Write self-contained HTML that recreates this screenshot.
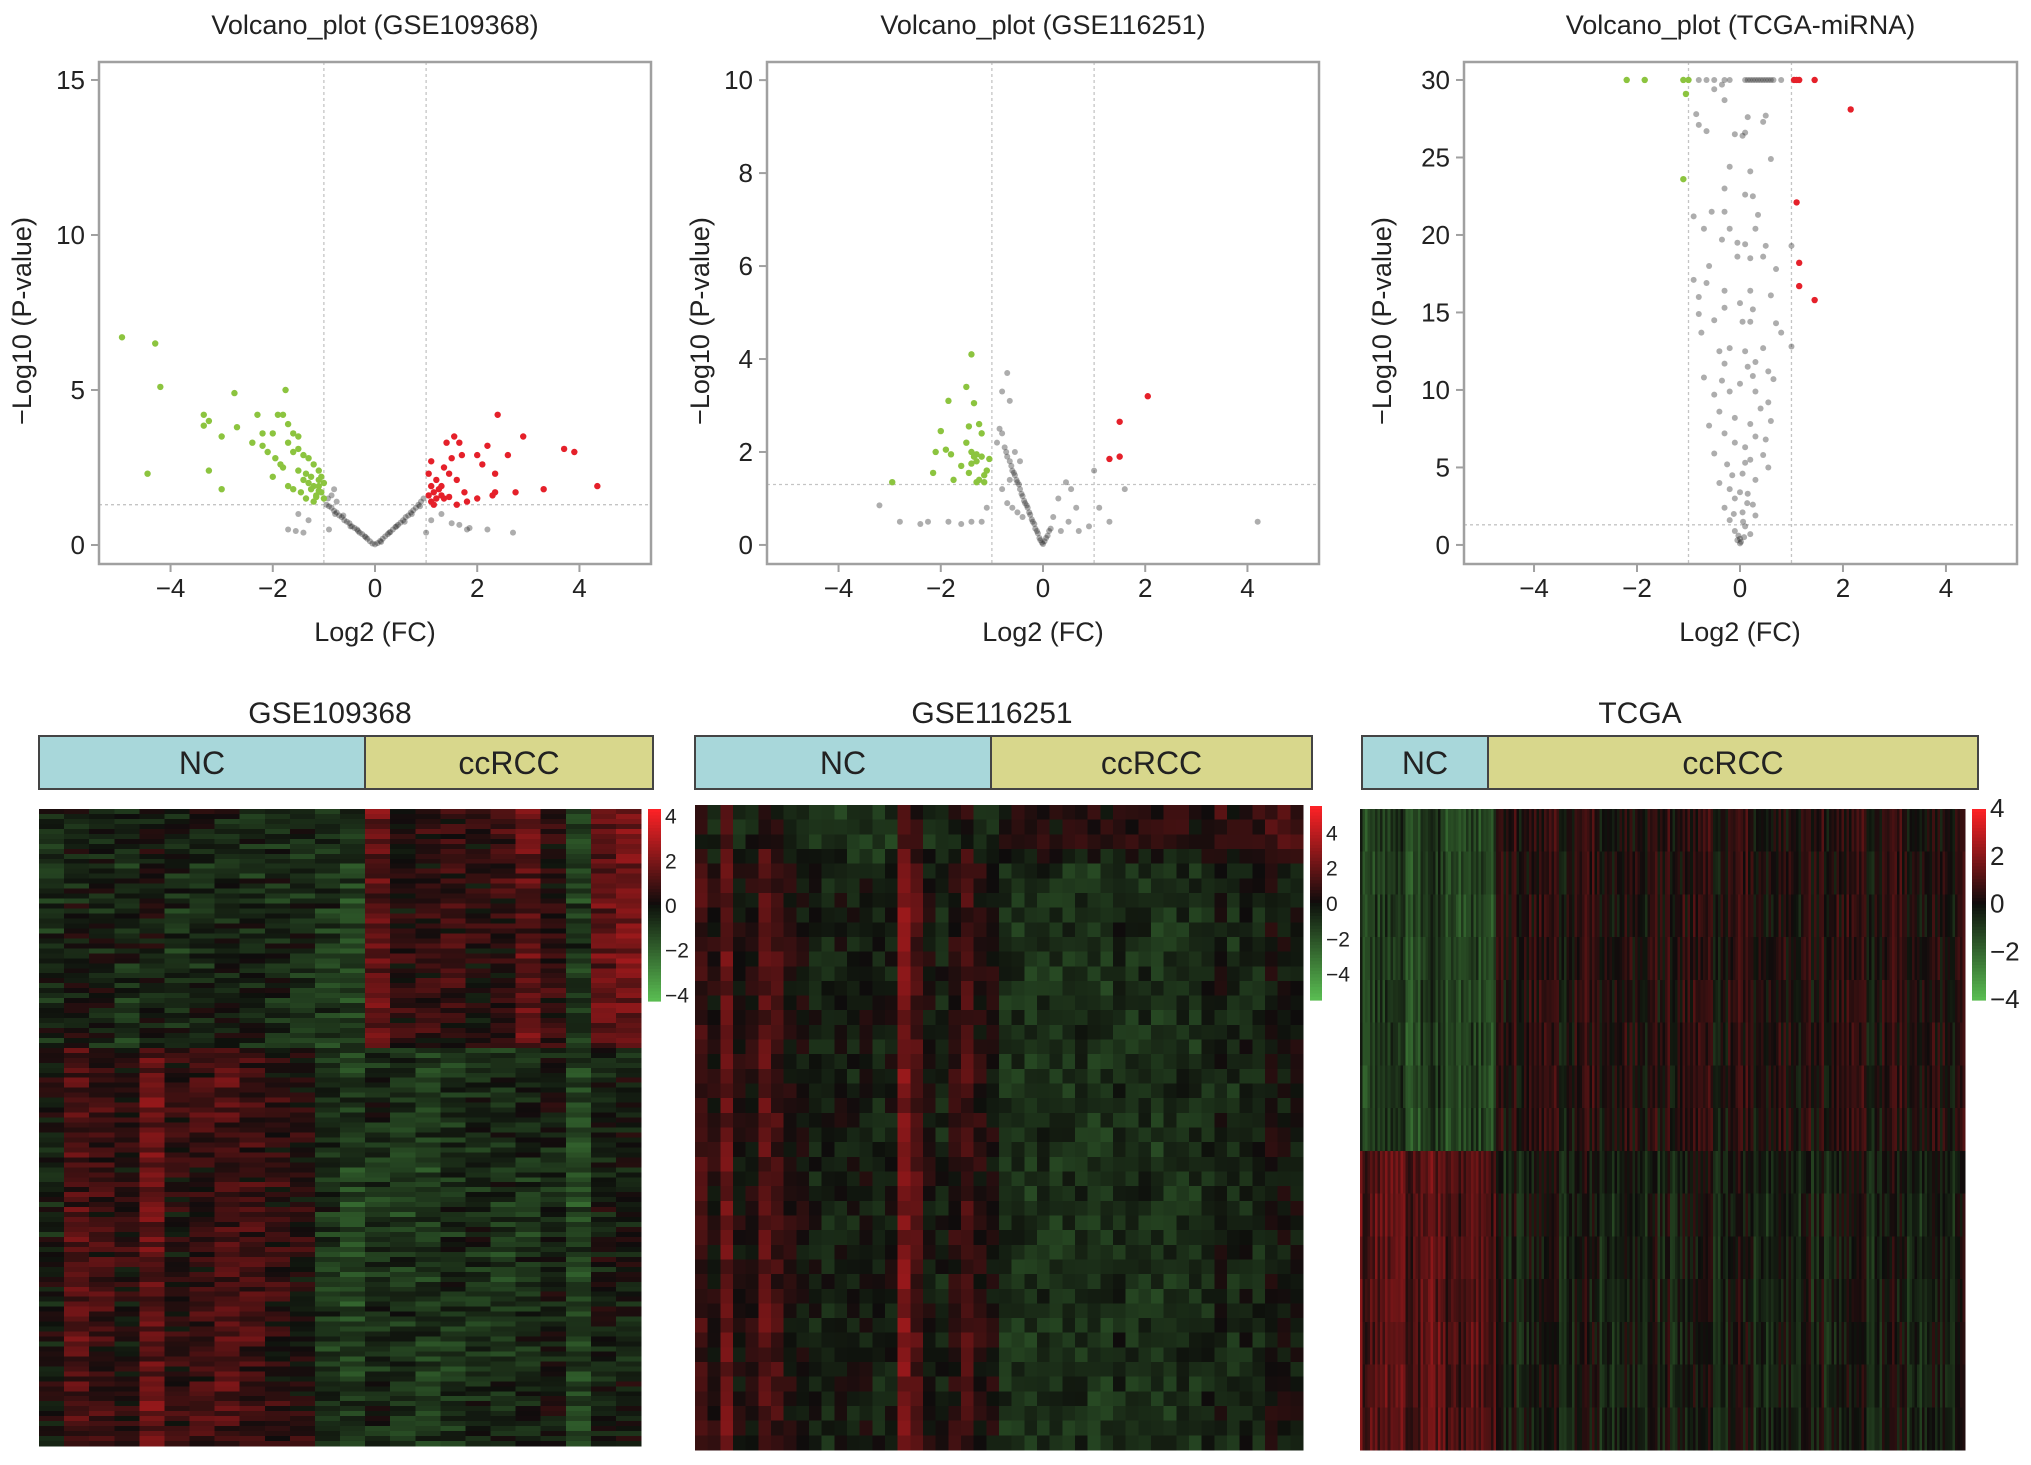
<!DOCTYPE html>
<html><head><meta charset="utf-8"><style>
html,body{margin:0;padding:0;background:#fff}
svg{display:block;font-family:"Liberation Sans",Arial,sans-serif}
</style></head><body>
<svg id="fig" width="2031" height="1465" viewBox="0 0 2031 1465" xmlns="http://www.w3.org/2000/svg"></svg>
<script>
// ---------- Volcano data ----------
const xTicks = [-4,-2,0,2,4];
const yTicks1 = [0,5,10,15];
const yTicks2 = [0,2,4,6,8,10];
const yTicks3 = [0,5,10,15,20,25,30];
const green1 = [[-4.95,6.7],[-4.3,6.5],[-4.2,5.1],[-4.45,2.3],[-3.35,4.2],[-3.25,4.0],[-3.35,3.85],[-3.0,3.5],[-3.25,2.4],[-3.0,1.8],[-2.75,4.9],[-2.7,3.8],[-2.3,4.2],[-2.2,3.6],[-2.0,3.6],[-1.9,4.2],[-1.8,4.2],[-1.75,5.0],[-1.7,3.9],[-1.6,3.6],[-1.5,3.5],[-2.4,3.3],[-2.2,3.2],[-2.1,3.0],[-1.95,2.8],[-1.85,2.6],[-1.7,3.3],[-1.6,3.0],[-1.5,3.1],[-1.4,2.9],[-1.3,2.8],[-1.2,2.6],[-1.1,2.4],[-1.05,2.2],[-1.5,2.4],[-1.4,2.1],[-1.3,2.0],[-1.2,1.9],[-1.1,1.9],[-1.05,1.7],[-1.15,1.6],[-1.35,1.5],[-1.25,1.8],[-1.45,1.7],[-1.6,1.8],[-2.0,2.2],[-1.8,2.5],[-1.35,2.3],[-1.25,2.2],[-1.1,2.1],[-1.15,1.55],[-1.0,1.5],[-1.2,1.4],[-1.1,1.75],[-1.0,2.0],[-1.7,1.9]];
const red1 = [[1.05,1.6],[1.1,1.9],[1.15,1.7],[1.2,1.5],[1.1,1.4],[1.25,1.8],[1.3,1.6],[1.35,1.5],[1.2,2.1],[1.1,2.7],[1.35,2.5],[1.45,2.3],[1.5,2.8],[1.55,3.5],[1.65,3.3],[1.7,2.9],[1.4,3.3],[1.6,2.1],[1.75,1.7],[1.8,1.4],[2.0,1.5],[2.0,2.9],[2.1,2.6],[2.2,3.2],[2.3,1.6],[2.35,2.3],[2.35,1.7],[2.4,4.2],[2.6,2.9],[2.75,1.7],[2.9,3.5],[3.3,1.8],[3.7,3.1],[3.9,3.0],[4.35,1.9],[1.05,2.3],[1.15,1.3],[1.3,1.9],[1.6,1.3],[1.45,1.55]];
const gray1 = [[-0.95,1.3],[-0.9,1.25],[-0.85,1.2],[-0.8,1.1],[-0.75,1.05],[-0.7,0.95],[-0.65,0.9],[-0.6,0.8],[-0.55,0.75],[-0.5,0.7],[-0.45,0.6],[-0.4,0.55],[-0.35,0.5],[-0.3,0.4],[-0.25,0.35],[-0.2,0.28],[-0.15,0.2],[-0.1,0.12],[-0.05,0.05],[0,0.02],[0.05,0.06],[0.1,0.13],[0.15,0.2],[0.2,0.28],[0.25,0.35],[0.3,0.42],[0.35,0.5],[0.4,0.58],[0.45,0.65],[0.5,0.72],[0.55,0.8],[0.6,0.9],[0.65,0.95],[0.7,1.05],[0.75,1.12],[0.8,1.2],[0.85,1.3],[0.9,1.4],[0.95,1.5],[-0.92,1.5],[-0.78,1.0],[-0.62,0.95],[-0.48,0.6],[-0.33,0.45],[-0.18,0.25],[0.12,0.1],[0.28,0.4],[0.42,0.6],[0.58,0.75],[0.72,1.0],[0.88,1.25],[-1.3,0.8],[-1.5,1.0],[-1.7,0.5],[-1.4,0.4],[-0.9,0.5],[-0.8,1.8],[1.1,0.8],[1.3,1.0],[1.0,0.4],[1.5,0.7],[1.65,0.65],[1.85,0.55],[2.2,0.5],[2.7,0.4],[1.8,0.5],[-1.55,0.45],[-0.85,1.6],[-0.75,1.4]];
const green2 = [[-2.95,1.35],[-2.15,1.55],[-2.1,2.0],[-2.0,2.45],[-1.9,2.05],[-1.85,3.1],[-1.8,1.95],[-1.75,1.4],[-1.5,3.4],[-1.4,4.1],[-1.45,2.55],[-1.35,3.05],[-1.5,2.2],[-1.4,2.0],[-1.35,1.9],[-1.3,1.8],[-1.25,2.6],[-1.2,2.4],[-1.2,1.9],[-1.15,1.5],[-1.25,1.4],[-1.3,1.35],[-1.1,1.6],[-1.45,1.55],[-1.4,1.75],[-1.6,1.7],[-1.15,1.35],[-1.05,1.85],[-1.3,1.95]];
const red2 = [[1.3,1.85],[1.5,1.9],[1.5,2.65],[2.05,3.2]];
const gray2 = [[-0.9,2.2],[-0.85,2.5],[-0.8,2.4],[-0.75,2.1],[-0.72,2.0],[-0.7,1.9],[-0.65,1.8],[-0.62,1.7],[-0.6,1.6],[-0.57,1.55],[-0.55,1.5],[-0.52,1.4],[-0.5,1.35],[-0.47,1.3],[-0.45,1.2],[-0.42,1.1],[-0.4,1.05],[-0.37,0.95],[-0.35,0.9],[-0.32,0.85],[-0.3,0.8],[-0.27,0.7],[-0.25,0.65],[-0.22,0.55],[-0.2,0.5],[-0.17,0.45],[-0.15,0.35],[-0.12,0.3],[-0.1,0.25],[-0.07,0.15],[-0.05,0.1],[-0.02,0.05],[0,0.02],[0.03,0.08],[0.06,0.15],[0.09,0.2],[0.12,0.3],[0.15,0.35],[-0.8,1.2],[-0.7,0.9],[-0.6,0.8],[-0.5,0.7],[-0.45,1.8],[-0.4,0.6],[-0.55,2.0],[-0.65,1.4],[-3.2,0.85],[-2.8,0.5],[-2.4,0.45],[-2.25,0.5],[-1.85,0.5],[-1.6,0.45],[-1.4,0.5],[-1.2,0.5],[-1.1,0.8],[-0.7,3.7],[-0.8,3.3],[-0.65,3.1],[0.3,1.0],[0.45,1.35],[0.55,1.2],[0.65,0.8],[0.5,0.5],[0.7,0.3],[0.9,0.4],[1.0,1.6],[1.1,0.8],[1.3,0.5],[1.6,1.2],[4.2,0.5],[0.2,0.6],[0.35,0.3]];
const green3 = [[-2.2,30],[-1.85,30],[-1.1,30],[-1.0,30],[-1.05,29.1],[-1.1,23.6]];
const red3 = [[1.05,30],[1.1,30],[1.15,30],[1.45,30],[2.15,28.1],[1.1,22.1],[1.15,18.2],[1.15,16.7],[1.45,15.8]];
const gray3 = [[-0.8,30],[-0.65,30],[-0.5,30],[-0.3,30],[-0.2,30],[0.1,30],[0.15,30],[0.2,30],[0.25,30],[0.3,30],[0.35,30],[0.4,30],[0.45,30],[0.5,30],[0.55,30],[0.6,30],[0.65,30],[0.8,30],[-0.5,29.4],[-0.3,28.7],[-0.85,27.8],[-0.8,27.1],[-0.65,26.7],[-0.1,26.5],[0.05,26.4],[0.1,26.6],[0.15,27.6],[0.5,27.7],[0.45,27.3],[0.6,24.9],[-0.2,24.4],[0.2,24.1],[-0.3,23.0],[0.1,22.6],[0.25,22.5],[-0.55,21.5],[-0.3,21.5],[0.35,21.3],[-0.9,21.2],[-0.7,20.4],[-0.2,20.4],[0.3,20.4],[-0.35,19.7],[-0.05,19.5],[0.1,19.4],[0.5,19.3],[0.2,18.5],[0.45,18.6],[-0.05,18.6],[-0.6,18.0],[0.7,17.8],[-0.9,17.1],[-0.65,16.9],[0.2,16.4],[-0.3,16.4],[0.6,16.1],[-0.8,16.0],[0.0,15.6],[-0.3,15.3],[0.25,15.2],[-0.8,14.9],[-0.5,14.5],[0.05,14.4],[0.2,14.4],[0.7,14.3],[-0.75,13.7],[0.8,13.7],[-0.2,12.7],[-0.4,12.5],[0.1,12.5],[0.45,12.7],[0.3,11.8],[-0.3,11.7],[0.15,11.5],[0.55,11.2],[0.25,10.9],[-0.7,10.8],[-0.35,10.6],[0.65,10.7],[0.0,10.4],[-0.2,9.9],[0.3,9.9],[-0.5,9.7],[0.55,9.2],[0.4,8.8],[-0.4,8.6],[-0.1,8.2],[0.6,8.0],[0.2,7.8],[-0.6,7.7],[-0.3,7.2],[0.3,7.0],[0.5,6.8],[-0.1,6.6],[0.1,6.3],[-0.5,5.9],[0.45,5.8],[0.2,5.5],[-0.25,5.2],[0.55,5.0],[0.05,4.6],[-0.4,4.0],[0.3,4.2],[-0.2,3.6],[0.15,3.3],[-0.1,3.0],[0.25,2.6],[-0.3,2.4],[0.05,2.1],[0.3,1.9],[-0.2,1.6],[0.1,1.2],[-0.1,0.9],[0.2,0.7],[0,0.4],[0.02,0.2],[-0.03,0.6],[0.06,1.5],[-0.12,2.0],[0.14,2.7],[0.0,3.4],[-0.15,4.5],[0.1,5.3],[1.0,19.3],[1.0,12.8],[-0.35,29.7],[0.0,0.1],[-0.05,0.3],[0.08,0.5]];

// ---------- Heatmap data ----------
const hmLegendTicks = [4,2,0,-2,-4];
const colTop1 = [-0.6,-0.3,-0.4,-0.7,-0.2,-0.6,-0.5,-0.4,-0.6,-0.7,-0.8,-1.0,-1.2,1.6,0.4,0.5,0.7,0.3,0.6,1.5,0.6,-1.1,1.5,1.9];
const colBot1 = [-0.2,1.2,0.8,0.3,1.6,0.4,0.7,1.1,0.9,0.5,0.2,-0.9,-1.3,-0.8,-1.0,-1.1,-0.8,-0.7,-0.9,-0.8,-0.4,-1.4,-0.3,-0.3];
const colBase2 = [0.8,0.2,1.4,0.1,0.2,1.2,0.8,0.2,0.0,-0.3,-0.4,-0.2,-0.3,-0.1,-0.4,-0.2,1.8,1.0,0.0,-0.4,0.4,0.9,0.3,0.1,-0.7,-0.7,-0.8,-0.6,-0.8,-0.7,-0.6,-0.8,-0.8,-0.5,-0.7,-0.6,-0.8,-0.7,-0.6,-0.7,-0.5,-0.2,-0.6,-0.4,-0.5,0.0,-0.1,-0.1];
const rowTop2 = [1.0,1.0,1.1,0.5];
const rowSign3 = [1,1,1,1,1,1,1,1,-1,-1,-1,-1,-1,-1,-1];
const noise = [0.62,-0.81,0.13,0.95,-0.37,-0.12,0.71,-0.94,0.28,0.45,-0.66,0.04,0.88,-0.23,-0.55,0.37,0.99,-0.72,0.19,-0.08,0.53,-0.99,0.31,0.76,-0.44,-0.17,0.66,-0.61,0.09,0.84,-0.31,0.42,-0.86,0.22,0.57,-0.03,-0.77,0.93,-0.48,0.15,0.69,-0.27,-0.91,0.35,0.05,0.81,-0.58,0.26,-0.14,0.74,-0.69,0.48,-0.36,0.11,0.91,-0.52,0.02,0.39,-0.84,0.58,-0.21];

const svg = document.getElementById('fig');
const NS = 'http://www.w3.org/2000/svg';
function mk(tag, attrs, parent){const e=document.createElementNS(NS,tag);for(const k in attrs)e.setAttribute(k,attrs[k]);(parent||svg).appendChild(e);return e;}
function txt(s, attrs, parent){const e=mk('text',attrs,parent);e.textContent=s;return e;}

function volcano(cfg){
  const g = mk('g',{});
  
  
  const sx = v => cfg.left + (v-cfg.xmin)/(cfg.xmax-cfg.xmin)*(cfg.right-cfg.left);
  const sy = v => cfg.bottom - (v-cfg.ymin)/(cfg.ymax-cfg.ymin)*(cfg.bottom-cfg.top);
  const cx=(cfg.left+cfg.right)/2;
  const t = txt(cfg.title,{x:cx,y:34,'text-anchor':'middle','font-size':27,fill:'#222'},g);
  
  
  [-1,1].forEach(v=>{const l=mk('line',{x1:sx(v),x2:sx(v),y1:cfg.top,y2:cfg.bottom,stroke:'#c4c4c4','stroke-width':1.3,'stroke-dasharray':'3,3'},g);
    
    });
  const hl=mk('line',{x1:cfg.left,x2:cfg.right,y1:sy(1.3),y2:sy(1.3),stroke:'#c4c4c4','stroke-width':1.3,'stroke-dasharray':'3,3'},g);
  
  
  const pts=(arr,fill,nm,r)=>arr.forEach(p=>{const c=mk('circle',{cx:sx(p[0]),cy:sy(p[1]),r:r,fill:fill},g);
    
    });
  pts(cfg.gray,'rgba(40,40,40,0.38)','point-ns',3.0);
  pts(cfg.green,'#8cc43f','point-down',3.2);
  pts(cfg.red,'#e5202a','point-up',3.2);
  const b=mk('rect',{x:cfg.left,y:cfg.top,width:cfg.right-cfg.left,height:cfg.bottom-cfg.top,fill:'none',stroke:'#a0a0a0','stroke-width':2.5},g);
  
  
  cfg.yTicks.forEach(v=>{mk('line',{x1:cfg.left-8,x2:cfg.left,y1:sy(v),y2:sy(v),stroke:'#a0a0a0','stroke-width':2},g);
    const tl=txt(String(v).replace('-','\u2212'),{x:cfg.left-14,y:sy(v)+9,'text-anchor':'end','font-size':26,fill:'#222'},g);
    
    });
  xTicks.forEach(v=>{mk('line',{x1:sx(v),x2:sx(v),y1:cfg.bottom,y2:cfg.bottom+8,stroke:'#a0a0a0','stroke-width':2},g);
    const tl=txt(String(v).replace('-','\u2212'),{x:sx(v),y:597,'text-anchor':'middle','font-size':26,fill:'#222'},g);
    
    });
  const xt=txt('Log2 (FC)',{x:sx(0),y:641,'text-anchor':'middle','font-size':27,fill:'#222'},g);
  
  
  const yc=(cfg.top+cfg.bottom)/2+8;
  const yt=txt('\u2212Log10 (P-value)',{x:cfg.ylabX,y:yc,'text-anchor':'middle','font-size':27,fill:'#222',transform:`rotate(-90 ${cfg.ylabX} ${yc})`},g);
  
  
}
volcano({name:'volcano-gse109368',title:'Volcano_plot (GSE109368)',left:99,right:651,top:62,bottom:564,xmin:-5.40,xmax:5.40,ymin:-0.613,ymax:15.58,yTicks:yTicks1,green:green1,red:red1,gray:gray1,ylabX:31});
volcano({name:'volcano-gse116251',title:'Volcano_plot (GSE116251)',left:767,right:1319,top:62,bottom:564,xmin:-5.40,xmax:5.40,ymin:-0.41,ymax:10.39,yTicks:yTicks2,green:green2,red:red2,gray:gray2,ylabX:709});
volcano({name:'volcano-tcga',title:'Volcano_plot (TCGA-miRNA)',left:1464,right:2017,top:62,bottom:564,xmin:-5.36,xmax:5.38,ymin:-1.23,ymax:31.16,yTicks:yTicks3,green:green3,red:red3,gray:gray3,ylabX:1391});

// ---------- heatmaps ----------
function col(v){
  v=Math.max(-4,Math.min(4,v));
  if(v>=0){const t=v/4;return `rgb(${Math.round(14+241*t)},${Math.round(12+22*t)},${Math.round(12+26*t)})`;}
  const t=-v/4;return `rgb(${Math.round(14+76*t)},${Math.round(16+174*t)},${Math.round(12+70*t)})`;
}
function heatmap(cfg){
  const g=mk('g',{});
  
  
  const t=txt(cfg.title,{x:cfg.titleX,y:723,'text-anchor':'middle','font-size':30,fill:'#222'},g);
  
  
  const r1=mk('rect',{x:cfg.barL,y:736,width:cfg.barSplit-cfg.barL,height:53,fill:'#a8d7da',stroke:'#444','stroke-width':2},g);
  
  
  const r2=mk('rect',{x:cfg.barSplit,y:736,width:cfg.barR-cfg.barSplit,height:53,fill:'#d8d78c',stroke:'#444','stroke-width':2},g);
  
  
  const l1=txt('NC',{x:(cfg.barL+cfg.barSplit)/2,y:774,'text-anchor':'middle','font-size':32,fill:'#222'},g);
  
  
  const l2=txt('ccRCC',{x:(cfg.barSplit+cfg.barR)/2,y:774,'text-anchor':'middle','font-size':32,fill:'#222'},g);
  
  
  const cw=(cfg.R-cfg.L)/cfg.nc, ch=(cfg.B-cfg.T)/cfg.nr;
  const cells=mk('g',{'shape-rendering':'crispEdges'},g);
  
  
  for(let r=0;r<cfg.nr;r++)for(let c=0;c<cfg.nc;c++){
    const v=cfg.val(r,c);
    mk('rect',{x:(cfg.L+c*cw).toFixed(2),y:(cfg.T+r*ch).toFixed(2),width:(cw+0.6).toFixed(2),height:(ch+0.6).toFixed(2),fill:col(v)},cells);
  }
  const cb=mk('g',{},g);
  
  
  const n=60, h=(cfg.cbB-cfg.cbT)/n;
  for(let i=0;i<n;i++){const v=cfg.cbMax-(cfg.cbMax-cfg.cbMin)*(i+0.5)/n;
    mk('rect',{x:cfg.cbL,y:cfg.cbT+i*h,width:cfg.cbW,height:h+0.6,fill:col(v*4/Math.max(cfg.cbMax,4))},cb);}
  hmLegendTicks.forEach(v=>{const y=cfg.cbT+(cfg.cbMax-v)/(cfg.cbMax-cfg.cbMin)*(cfg.cbB-cfg.cbT);
    const tl=txt(String(v).replace('-','\u2212'),{x:cfg.cbL+cfg.cbW+4,y:y+8,'font-size':cfg.cbFont,fill:'#222'},cb);
    
    });
}
heatmap({name:'heatmap-gse109368',title:'GSE109368',titleX:330,barL:39,barSplit:365,barR:653,L:39,R:641,T:809,B:1446,nc:24,nr:128,
  cbL:648,cbW:13,cbT:809,cbB:1001,cbMax:4.3,cbMin:-4.3,cbFont:21,
  val:(r,c)=>{const base=r<48?colTop1[c]:colBot1[c];return 0.85*base+0.7*noise[(r*17+c*31)%61]+0.3*noise[(r*5+3)%61];}});
heatmap({name:'heatmap-gse116251',title:'GSE116251',titleX:992,barL:695,barSplit:991,barR:1312,L:695,R:1303,T:805,B:1450,nc:48,nr:44,
  cbL:1310,cbW:12,cbT:806,cbB:1000,cbMax:5.5,cbMin:-5.5,cbFont:21,
  val:(r,c)=>{let base=colBase2[c];if(r<rowTop2.length)base+= (c<24?-0.6:1)*rowTop2[r];return base+0.55*noise[(r*23+c*13)%61];}});
heatmap({name:'heatmap-tcga',title:'TCGA',titleX:1640,barL:1362,barSplit:1488,barR:1978,L:1360,R:1965,T:809,B:1450,nc:240,nr:15,
  cbL:1972,cbW:14,cbT:809,cbB:1000,cbMax:4,cbMin:-4,cbFont:26,
  val:(r,c)=>{const s=rowSign3[r];const base=c<54?-1.1*s:0.25*s;return base+0.75*noise[(c*7+3)%61]+0.35*noise[(r*19+c*29)%61];}});
</script>
</body></html>
